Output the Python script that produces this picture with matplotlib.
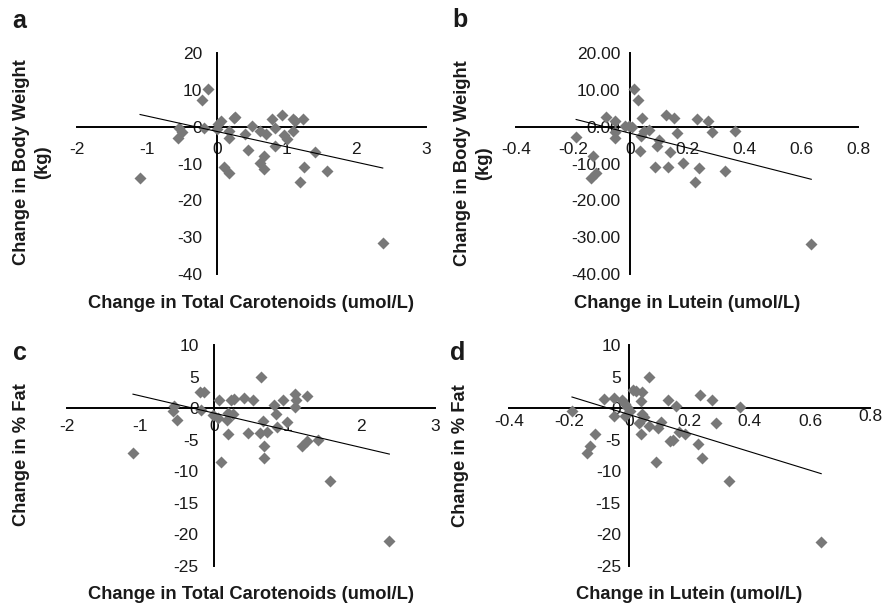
import numpy as np
import matplotlib.pyplot as plt
from matplotlib.ticker import FixedLocator, FormatStrFormatter
from matplotlib.transforms import ScaledTranslation

plt.rcParams['font.family'] = ['Liberation Sans', 'DejaVu Sans']
plt.rcParams['axes.unicode_minus'] = False

# panel a: change in total carotenoids vs change in body weight
a_carot = [-0.13, -0.21, -1.10, -0.54, -0.56, -0.50, -0.19, 0.02, 0.06, 0.00,
           0.18, 0.17, 0.24, 0.26, 0.11, 0.17, 0.41, 0.51, 0.45, 0.62,
           0.70, 0.67, 0.62, 0.67, 0.79, 0.84, 0.93, 0.96, 1.00, 0.84,
           1.10, 1.12, 1.10, 1.24, 1.25, 1.20, 1.41, 1.58, 2.38]
a_weight = [10.3, 7.2, -14.0, -0.4, -3.0, -1.5, -0.4, 0.8, 1.5, -0.5,
            -1.0, -3.0, 2.4, 2.6, -11.0, -12.6, -1.9, 0.1, -6.4, -1.2,
            -1.9, -7.8, -9.8, -11.4, 2.2, -0.4, 3.3, -2.1, -3.3, -5.3,
            2.2, 1.5, -1.0, 2.2, -11.0, -15.0, -6.7, -12.1, -31.6]

# panel b: change in lutein vs change in body weight
b_lutein = [0.013, 0.027, -0.084, -0.051, -0.189, -0.054, -0.054, -0.019, -0.005, 0.007,
            0.042, 0.039, 0.036, 0.048, 0.068, 0.101, 0.095, 0.087, 0.126, 0.153,
            0.165, 0.142, 0.132, 0.185, 0.235, 0.273, 0.288, 0.367, 0.243, 0.229,
            0.335, -0.131, -0.136, -0.119, 0.636]
b_weight = [10.3, 7.3, 2.6, 1.5, -2.8, -3.0, -1.5, 0.1, 0.1, -0.1,
            2.4, -2.6, -6.6, -1.2, -0.8, -3.5, -5.3, -11.0, 3.3, 2.4,
            -1.7, -6.7, -11.0, -9.8, 2.2, 1.5, -1.3, -1.2, -11.2, -15.0,
            -12.1, -8.0, -13.9, -12.6, -31.8]

# panel c: change in total carotenoids vs change in % fat
c_carot = [-1.10, -0.54, -0.56, -0.50, -0.19, -0.14, -0.17, -0.02, 0.07, 0.05,
           0.10, 0.18, 0.19, 0.26, 0.23, 0.27, 0.19, 0.41, 0.53, 0.46,
           0.64, 0.67, 0.63, 0.72, 0.68, 0.68, 0.81, 0.84, 0.85, 0.94,
           0.99, 1.10, 1.10, 1.11, 1.26, 1.20, 1.26, 1.41, 1.57, 2.38]
c_fat = [-7.2, 0.3, -0.5, -1.9, 2.6, 2.6, -0.3, -1.1, 1.3, -1.6,
         -8.5, -1.9, -0.8, -1.0, 1.3, 1.5, -4.1, 1.6, 1.3, -4.0,
         4.9, -2.0, -3.9, -3.8, -6.0, -7.9, 0.5, -1.0, -3.0, 1.3,
         -2.2, 2.3, 0.2, 1.3, 1.9, -6.0, -5.3, -5.0, -11.6, -21.1]

# panel d: change in lutein vs change in % fat
d_lutein = [0.064, 0.014, 0.023, 0.042, 0.039, -0.085, -0.052, -0.024, -0.015, -0.008,
            0.003, -0.190, -0.052, -0.015, 0.042, 0.048, 0.031, 0.064, 0.039, 0.097,
            0.105, 0.090, 0.127, 0.156, 0.134, 0.144, 0.164, 0.186, 0.227, 0.243,
            0.236, 0.274, 0.288, 0.366, 0.332, -0.115, -0.129, -0.140, 0.637]
d_fat = [4.9, 2.8, 2.7, 2.5, 1.1, 1.4, 1.6, 1.2, 0.7, 0.2,
         -0.4, -0.5, -1.3, -1.2, -0.9, -1.4, -2.4, -2.8, -4.1, -3.1,
         -2.2, -8.5, 1.2, 0.3, -5.3, -5.1, -3.8, -4.1, -5.7, -7.9,
         2.0, 1.2, -2.3, 0.2, -11.6, -4.1, -6.0, -7.2, -21.2]

# linear trendlines (slope, intercept)
trend_a = (-4.18, -1.24)
trend_b = (-19.7, -1.72)
trend_c = (-2.73, -0.80)
trend_d = (-14.7, -1.04)

carot_ticks = [-2, -1, 0, 1, 2, 3]
lutein_ticks = [-0.4, -0.2, 0, 0.2, 0.4, 0.6, 0.8]
weight_ticks = [20, 10, 0, -10, -20, -30, -40]
fat_ticks = [10, 5, 0, -5, -10, -15, -20, -25]

W, H = 884, 607
fig = plt.figure(figsize=(W / 100, H / 100), dpi=100)


def px_rect(x0, y0, x1, y1):
    # pixel box (top-left origin) -> figure fraction rect
    return [x0 / W, 1 - y1 / H, (x1 - x0) / W, (y1 - y0) / H]


def panel(rect, x, y, trend, xlim, ylim, xticks, yticks, yfmt, xpad, ypad):
    ax = fig.add_axes(rect)
    ax.patch.set_alpha(0)
    ax.plot(x, y, linestyle='none', marker='D', ms=6.2, color='#787878',
            mec='none', zorder=3, clip_on=False)
    xs = np.array([min(x), max(x)])
    ax.plot(xs, trend[0] * xs + trend[1], color='black', lw=0.8, zorder=4)
    ax.set_xlim(xlim)
    ax.set_ylim(ylim)
    for s in ['top', 'right']:
        ax.spines[s].set_visible(False)
    for s in ['left', 'bottom']:
        ax.spines[s].set_position(('data', 0))
        ax.spines[s].set_linewidth(1.4)
        ax.spines[s].set_color('black')
    ax.xaxis.set_major_locator(FixedLocator(xticks))
    ax.yaxis.set_major_locator(FixedLocator(yticks))
    ax.xaxis.set_major_formatter(FormatStrFormatter('%g'))
    ax.yaxis.set_major_formatter(FormatStrFormatter(yfmt))
    ax.tick_params(length=0, labelsize=12.5, labelcolor='#1a1a1a')
    ax.tick_params(axis='x', pad=xpad)
    ax.tick_params(axis='y', pad=ypad)
    return ax


ax_a = panel(px_rect(77.3, 53.3, 426, 274), a_carot, a_weight, trend_a,
             (-2, 3), (-40, 20), carot_ticks, weight_ticks, '%g', 11, 10.5)
ax_b = panel(px_rect(516, 53.3, 858, 274), b_lutein, b_weight, trend_b,
             (-0.4, 0.8), (-40, 20), lutein_ticks, weight_ticks, '%.2f', 11, 7)
ax_c = panel(px_rect(66.7, 345, 435, 565.7), c_carot, c_fat, trend_c,
             (-2, 3), (-25, 10), carot_ticks, fat_ticks, '%g', 8, 11)
ax_d = panel(px_rect(508.7, 345, 870.3, 565.7), d_lutein, d_fat, trend_d,
             (-0.4, 0.8), (-25, 10), lutein_ticks, fat_ticks, '%g', 4.5, 6)

# the last lutein label sits a little higher in panel d
fig.canvas.draw()
lab = ax_d.get_xticklabels()[-1]
lab.set_transform(lab.get_transform() + ScaledTranslation(0, 5 / 100, fig.dpi_scale_trans))

lab_kw = dict(fontsize=13.2, fontweight='bold', color='#1a1a1a')

# panel letters
for x, y, t in [(12, 28, 'a'), (452, 27, 'b'), (13, 360, 'c'), (450, 360, 'd')]:
    fig.text(x / W, 1 - y / H, t, fontsize=18, fontweight='bold', va='baseline', color='#1a1a1a')

# x axis labels
fig.text(251 / W, 1 - 308 / H, 'Change in Total Carotenoids (umol/L)', ha='center', va='baseline', **lab_kw)
fig.text(687 / W, 1 - 308 / H, 'Change in Lutein (umol/L)', ha='center', va='baseline', **lab_kw)
fig.text(251 / W, 1 - 599 / H, 'Change in Total Carotenoids (umol/L)', ha='center', va='baseline', **lab_kw)
fig.text(689.5 / W, 1 - 599 / H, 'Change in Lutein (umol/L)', ha='center', va='baseline', **lab_kw)

# y axis labels
fig.text(32 / W, 1 - 162 / H, 'Change in Body Weight\n(kg)', rotation=90, ha='center', va='center',
         multialignment='center', linespacing=1.3, **lab_kw)
fig.text(473 / W, 1 - 163 / H, 'Change in Body Weight\n(kg)', rotation=90, ha='center', va='center',
         multialignment='center', linespacing=1.3, **lab_kw)
fig.text(21.5 / W, 1 - 454.5 / H, 'Change in % Fat', rotation=90, ha='center', va='center', **lab_kw)
fig.text(460.5 / W, 1 - 455.5 / H, 'Change in % Fat', rotation=90, ha='center', va='center', **lab_kw)

fig.savefig('out.png', dpi=100)
